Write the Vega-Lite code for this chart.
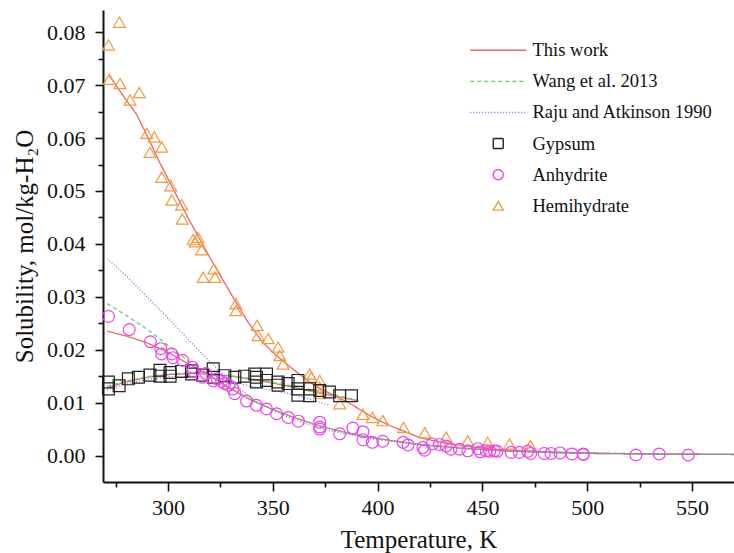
{
  "$schema": "https://vega.github.io/schema/vega-lite/v6.json",
  "autosize": {"type": "none"},
  "width": 631,
  "height": 472,
  "padding": {"left": 103, "top": 10, "right": 0, "bottom": 71},
  "background": "white",
  "config": {
    "view": {"stroke": null},
    "font": "Liberation Serif",
    "axis": {
      "grid": false,
      "domainColor": "#111",
      "domainWidth": 2,
      "tickColor": "#111",
      "tickWidth": 1.6,
      "labelFont": "Liberation Serif",
      "labelFontSize": 22,
      "labelColor": "#111",
      "titleFont": "Liberation Serif",
      "titleFontSize": 25,
      "titleFontWeight": "normal",
      "titleColor": "#111"
    },
    "legend": {
      "orient": "none",
      "legendX": 386,
      "legendY": 31,
      "title": null,
      "labelFont": "Liberation Serif",
      "labelFontSize": 18.5,
      "labelColor": "#111",
      "labelOffset": 25,
      "labelLimit": 0,
      "symbolSize": 100,
      "symbolStrokeWidth": 1.4,
      "rowPadding": 12.1,
      "symbolFillColor": "transparent"
    }
  },
  "datasets": {
    "pts": [
      {"series": "Hemihydrate", "T": 276.8, "S": 0.0819},
      {"series": "Hemihydrate", "T": 271.6, "S": 0.0776},
      {"series": "Hemihydrate", "T": 272.0, "S": 0.0711},
      {"series": "Hemihydrate", "T": 277.1, "S": 0.0703},
      {"series": "Hemihydrate", "T": 281.9, "S": 0.0672},
      {"series": "Hemihydrate", "T": 286.3, "S": 0.0686},
      {"series": "Hemihydrate", "T": 289.9, "S": 0.0609},
      {"series": "Hemihydrate", "T": 293.5, "S": 0.0602},
      {"series": "Hemihydrate", "T": 297.0, "S": 0.0583},
      {"series": "Hemihydrate", "T": 291.4, "S": 0.0573},
      {"series": "Hemihydrate", "T": 297.0, "S": 0.0526},
      {"series": "Hemihydrate", "T": 301.3, "S": 0.0510},
      {"series": "Hemihydrate", "T": 301.8, "S": 0.0483},
      {"series": "Hemihydrate", "T": 306.5, "S": 0.0474},
      {"series": "Hemihydrate", "T": 306.8, "S": 0.0447},
      {"series": "Hemihydrate", "T": 312.0, "S": 0.0408},
      {"series": "Hemihydrate", "T": 314.4, "S": 0.0412},
      {"series": "Hemihydrate", "T": 313.0, "S": 0.0404},
      {"series": "Hemihydrate", "T": 316.0, "S": 0.0389},
      {"series": "Hemihydrate", "T": 316.8, "S": 0.0337},
      {"series": "Hemihydrate", "T": 321.9, "S": 0.0353},
      {"series": "Hemihydrate", "T": 322.4, "S": 0.0337},
      {"series": "Hemihydrate", "T": 332.4, "S": 0.0287},
      {"series": "Hemihydrate", "T": 332.4, "S": 0.0274},
      {"series": "Hemihydrate", "T": 342.5, "S": 0.0246},
      {"series": "Hemihydrate", "T": 343.0, "S": 0.0227},
      {"series": "Hemihydrate", "T": 347.8, "S": 0.0221},
      {"series": "Hemihydrate", "T": 352.5, "S": 0.0205},
      {"series": "Hemihydrate", "T": 353.3, "S": 0.0189},
      {"series": "Hemihydrate", "T": 354.9, "S": 0.0173},
      {"series": "Hemihydrate", "T": 367.6, "S": 0.0154},
      {"series": "Hemihydrate", "T": 368.4, "S": 0.0148},
      {"series": "Hemihydrate", "T": 372.4, "S": 0.0142},
      {"series": "Hemihydrate", "T": 372.4, "S": 0.0129},
      {"series": "Hemihydrate", "T": 372.4, "S": 0.0117},
      {"series": "Hemihydrate", "T": 381.9, "S": 0.0098},
      {"series": "Hemihydrate", "T": 393.0, "S": 0.0078},
      {"series": "Hemihydrate", "T": 397.5, "S": 0.0072},
      {"series": "Hemihydrate", "T": 402.5, "S": 0.0066},
      {"series": "Hemihydrate", "T": 412.4, "S": 0.0053},
      {"series": "Hemihydrate", "T": 422.5, "S": 0.0043},
      {"series": "Hemihydrate", "T": 432.7, "S": 0.0035},
      {"series": "Hemihydrate", "T": 443.0, "S": 0.0028},
      {"series": "Hemihydrate", "T": 452.5, "S": 0.0025},
      {"series": "Hemihydrate", "T": 462.9, "S": 0.0022},
      {"series": "Hemihydrate", "T": 472.9, "S": 0.0019},
      {"series": "Gypsum", "T": 271.6, "S": 0.0139},
      {"series": "Gypsum", "T": 271.6, "S": 0.0126},
      {"series": "Gypsum", "T": 276.7, "S": 0.0132},
      {"series": "Gypsum", "T": 281.1, "S": 0.0145},
      {"series": "Gypsum", "T": 285.9, "S": 0.0148},
      {"series": "Gypsum", "T": 291.4, "S": 0.0152},
      {"series": "Gypsum", "T": 296.2, "S": 0.0161},
      {"series": "Gypsum", "T": 296.2, "S": 0.0150},
      {"series": "Gypsum", "T": 301.0, "S": 0.0157},
      {"series": "Gypsum", "T": 301.0, "S": 0.0150},
      {"series": "Gypsum", "T": 306.5, "S": 0.0159},
      {"series": "Gypsum", "T": 311.3, "S": 0.0154},
      {"series": "Gypsum", "T": 311.3, "S": 0.0160},
      {"series": "Gypsum", "T": 316.5, "S": 0.0152},
      {"series": "Gypsum", "T": 321.6, "S": 0.0164},
      {"series": "Gypsum", "T": 321.6, "S": 0.0148},
      {"series": "Gypsum", "T": 327.1, "S": 0.0151},
      {"series": "Gypsum", "T": 331.9, "S": 0.0148},
      {"series": "Gypsum", "T": 336.5, "S": 0.0150},
      {"series": "Gypsum", "T": 341.4, "S": 0.0154},
      {"series": "Gypsum", "T": 342.2, "S": 0.0139},
      {"series": "Gypsum", "T": 342.2, "S": 0.0148},
      {"series": "Gypsum", "T": 347.0, "S": 0.0154},
      {"series": "Gypsum", "T": 347.0, "S": 0.0142},
      {"series": "Gypsum", "T": 352.5, "S": 0.0139},
      {"series": "Gypsum", "T": 352.5, "S": 0.0133},
      {"series": "Gypsum", "T": 357.3, "S": 0.0136},
      {"series": "Gypsum", "T": 362.0, "S": 0.0142},
      {"series": "Gypsum", "T": 362.0, "S": 0.0126},
      {"series": "Gypsum", "T": 362.0, "S": 0.0114},
      {"series": "Gypsum", "T": 367.6, "S": 0.0126},
      {"series": "Gypsum", "T": 367.6, "S": 0.0113},
      {"series": "Gypsum", "T": 372.4, "S": 0.0123},
      {"series": "Gypsum", "T": 377.0, "S": 0.0120},
      {"series": "Gypsum", "T": 381.9, "S": 0.0113},
      {"series": "Gypsum", "T": 387.5, "S": 0.0113},
      {"series": "Anhydrite", "T": 271.6, "S": 0.0263},
      {"series": "Anhydrite", "T": 281.5, "S": 0.0238},
      {"series": "Anhydrite", "T": 291.6, "S": 0.0215},
      {"series": "Anhydrite", "T": 296.6, "S": 0.0202},
      {"series": "Anhydrite", "T": 297.0, "S": 0.0192},
      {"series": "Anhydrite", "T": 301.8, "S": 0.0192},
      {"series": "Anhydrite", "T": 302.5, "S": 0.0185},
      {"series": "Anhydrite", "T": 307.0, "S": 0.0180},
      {"series": "Anhydrite", "T": 311.6, "S": 0.0167},
      {"series": "Anhydrite", "T": 312.0, "S": 0.0160},
      {"series": "Anhydrite", "T": 316.4, "S": 0.0148},
      {"series": "Anhydrite", "T": 318.0, "S": 0.0155},
      {"series": "Anhydrite", "T": 321.6, "S": 0.0141},
      {"series": "Anhydrite", "T": 323.5, "S": 0.0145},
      {"series": "Anhydrite", "T": 325.5, "S": 0.0140},
      {"series": "Anhydrite", "T": 327.1, "S": 0.0136},
      {"series": "Anhydrite", "T": 329.0, "S": 0.0133},
      {"series": "Anhydrite", "T": 331.0, "S": 0.0126},
      {"series": "Anhydrite", "T": 331.9, "S": 0.0117},
      {"series": "Anhydrite", "T": 337.5, "S": 0.0103},
      {"series": "Anhydrite", "T": 342.2, "S": 0.0095},
      {"series": "Anhydrite", "T": 347.0, "S": 0.0088},
      {"series": "Anhydrite", "T": 351.8, "S": 0.0079},
      {"series": "Anhydrite", "T": 357.3, "S": 0.0072},
      {"series": "Anhydrite", "T": 362.2, "S": 0.0065},
      {"series": "Anhydrite", "T": 372.4, "S": 0.0063},
      {"series": "Anhydrite", "T": 372.4, "S": 0.0054},
      {"series": "Anhydrite", "T": 372.4, "S": 0.0050},
      {"series": "Anhydrite", "T": 381.9, "S": 0.0041},
      {"series": "Anhydrite", "T": 388.2, "S": 0.0052},
      {"series": "Anhydrite", "T": 393.0, "S": 0.0045},
      {"series": "Anhydrite", "T": 393.0, "S": 0.0030},
      {"series": "Anhydrite", "T": 397.5, "S": 0.0025},
      {"series": "Anhydrite", "T": 402.5, "S": 0.0027},
      {"series": "Anhydrite", "T": 412.2, "S": 0.0025},
      {"series": "Anhydrite", "T": 414.5, "S": 0.0020},
      {"series": "Anhydrite", "T": 421.6, "S": 0.0015},
      {"series": "Anhydrite", "T": 422.4, "S": 0.0010},
      {"series": "Anhydrite", "T": 426.0, "S": 0.0022},
      {"series": "Anhydrite", "T": 429.5, "S": 0.0021},
      {"series": "Anhydrite", "T": 432.7, "S": 0.0018},
      {"series": "Anhydrite", "T": 435.0, "S": 0.0012},
      {"series": "Anhydrite", "T": 439.0, "S": 0.0012},
      {"series": "Anhydrite", "T": 443.0, "S": 0.0009},
      {"series": "Anhydrite", "T": 447.8, "S": 0.0013},
      {"series": "Anhydrite", "T": 449.0, "S": 0.0007},
      {"series": "Anhydrite", "T": 451.8, "S": 0.0009},
      {"series": "Anhydrite", "T": 453.5, "S": 0.0008},
      {"series": "Anhydrite", "T": 455.7, "S": 0.0009},
      {"series": "Anhydrite", "T": 457.0, "S": 0.0008},
      {"series": "Anhydrite", "T": 463.7, "S": 0.0006},
      {"series": "Anhydrite", "T": 467.6, "S": 0.0006},
      {"series": "Anhydrite", "T": 471.6, "S": 0.0008},
      {"series": "Anhydrite", "T": 473.0, "S": 0.0004},
      {"series": "Anhydrite", "T": 479.5, "S": 0.0004},
      {"series": "Anhydrite", "T": 482.7, "S": 0.0004},
      {"series": "Anhydrite", "T": 487.0, "S": 0.0005},
      {"series": "Anhydrite", "T": 492.7, "S": 0.0003},
      {"series": "Anhydrite", "T": 498.1, "S": 0.0003},
      {"series": "Anhydrite", "T": 498.1, "S": 0.0002},
      {"series": "Anhydrite", "T": 523.2, "S": 0.0001},
      {"series": "Anhydrite", "T": 534.3, "S": 0.0003},
      {"series": "Anhydrite", "T": 548.2, "S": 0.0001}
    ],
    "lines": [
      {"series": "This work", "mineral": "H", "T": 272, "S": 0.0718},
      {"series": "This work", "mineral": "H", "T": 280, "S": 0.0672},
      {"series": "This work", "mineral": "H", "T": 285, "S": 0.0645},
      {"series": "This work", "mineral": "H", "T": 290, "S": 0.0605},
      {"series": "This work", "mineral": "H", "T": 296, "S": 0.0554},
      {"series": "This work", "mineral": "H", "T": 300, "S": 0.0523},
      {"series": "This work", "mineral": "H", "T": 310, "S": 0.0446},
      {"series": "This work", "mineral": "H", "T": 320, "S": 0.0374},
      {"series": "This work", "mineral": "H", "T": 330, "S": 0.0306},
      {"series": "This work", "mineral": "H", "T": 338, "S": 0.0253},
      {"series": "This work", "mineral": "H", "T": 345, "S": 0.0215},
      {"series": "This work", "mineral": "H", "T": 350, "S": 0.0195},
      {"series": "This work", "mineral": "H", "T": 355, "S": 0.0178},
      {"series": "This work", "mineral": "H", "T": 360, "S": 0.0162},
      {"series": "This work", "mineral": "H", "T": 370, "S": 0.0132},
      {"series": "This work", "mineral": "H", "T": 380, "S": 0.0112},
      {"series": "This work", "mineral": "H", "T": 387, "S": 0.0098},
      {"series": "This work", "mineral": "H", "T": 396, "S": 0.0076},
      {"series": "This work", "mineral": "H", "T": 405, "S": 0.0058},
      {"series": "This work", "mineral": "H", "T": 420, "S": 0.0034},
      {"series": "This work", "mineral": "H", "T": 430, "S": 0.0025},
      {"series": "This work", "mineral": "H", "T": 445, "S": 0.0016},
      {"series": "This work", "mineral": "H", "T": 460, "S": 0.0011},
      {"series": "This work", "mineral": "H", "T": 480, "S": 0.0007},
      {"series": "This work", "mineral": "H", "T": 500, "S": 0.0005},
      {"series": "This work", "mineral": "H", "T": 530, "S": 0.0003},
      {"series": "This work", "mineral": "H", "T": 570, "S": 0.0002},
      {"series": "This work", "mineral": "G", "T": 271, "S": 0.0128},
      {"series": "This work", "mineral": "G", "T": 280, "S": 0.0139},
      {"series": "This work", "mineral": "G", "T": 290, "S": 0.0148},
      {"series": "This work", "mineral": "G", "T": 300, "S": 0.0153},
      {"series": "This work", "mineral": "G", "T": 310, "S": 0.0155},
      {"series": "This work", "mineral": "G", "T": 320, "S": 0.0154},
      {"series": "This work", "mineral": "G", "T": 330, "S": 0.0150},
      {"series": "This work", "mineral": "G", "T": 340, "S": 0.0144},
      {"series": "This work", "mineral": "G", "T": 350, "S": 0.0137},
      {"series": "This work", "mineral": "G", "T": 360, "S": 0.0129},
      {"series": "This work", "mineral": "G", "T": 370, "S": 0.0120},
      {"series": "This work", "mineral": "G", "T": 380, "S": 0.0112},
      {"series": "This work", "mineral": "G", "T": 390, "S": 0.0104},
      {"series": "This work", "mineral": "A", "T": 271, "S": 0.0235},
      {"series": "This work", "mineral": "A", "T": 280, "S": 0.0226},
      {"series": "This work", "mineral": "A", "T": 290, "S": 0.0213},
      {"series": "This work", "mineral": "A", "T": 300, "S": 0.0195},
      {"series": "This work", "mineral": "A", "T": 310, "S": 0.0173},
      {"series": "This work", "mineral": "A", "T": 320, "S": 0.0150},
      {"series": "This work", "mineral": "A", "T": 330, "S": 0.0126},
      {"series": "This work", "mineral": "A", "T": 340, "S": 0.0104},
      {"series": "This work", "mineral": "A", "T": 350, "S": 0.0087},
      {"series": "This work", "mineral": "A", "T": 360, "S": 0.0072},
      {"series": "This work", "mineral": "A", "T": 370, "S": 0.0059},
      {"series": "This work", "mineral": "A", "T": 380, "S": 0.0048},
      {"series": "This work", "mineral": "A", "T": 390, "S": 0.0039},
      {"series": "This work", "mineral": "A", "T": 400, "S": 0.0032},
      {"series": "This work", "mineral": "A", "T": 420, "S": 0.0021},
      {"series": "This work", "mineral": "A", "T": 440, "S": 0.0014},
      {"series": "This work", "mineral": "A", "T": 460, "S": 0.0009},
      {"series": "This work", "mineral": "A", "T": 480, "S": 0.0006},
      {"series": "This work", "mineral": "A", "T": 500, "S": 0.0004},
      {"series": "This work", "mineral": "A", "T": 530, "S": 0.0003},
      {"series": "This work", "mineral": "A", "T": 570, "S": 0.0002},
      {"series": "Wang et al. 2013", "mineral": "G", "T": 271, "S": 0.0131},
      {"series": "Wang et al. 2013", "mineral": "G", "T": 280, "S": 0.0141},
      {"series": "Wang et al. 2013", "mineral": "G", "T": 290, "S": 0.0149},
      {"series": "Wang et al. 2013", "mineral": "G", "T": 300, "S": 0.0154},
      {"series": "Wang et al. 2013", "mineral": "G", "T": 310, "S": 0.0156},
      {"series": "Wang et al. 2013", "mineral": "G", "T": 320, "S": 0.0155},
      {"series": "Wang et al. 2013", "mineral": "G", "T": 330, "S": 0.0151},
      {"series": "Wang et al. 2013", "mineral": "G", "T": 340, "S": 0.0145},
      {"series": "Wang et al. 2013", "mineral": "G", "T": 350, "S": 0.0138},
      {"series": "Wang et al. 2013", "mineral": "G", "T": 360, "S": 0.0131},
      {"series": "Wang et al. 2013", "mineral": "G", "T": 370, "S": 0.0123},
      {"series": "Wang et al. 2013", "mineral": "G", "T": 380, "S": 0.0114},
      {"series": "Wang et al. 2013", "mineral": "G", "T": 391, "S": 0.0104},
      {"series": "Wang et al. 2013", "mineral": "A", "T": 271, "S": 0.0287},
      {"series": "Wang et al. 2013", "mineral": "A", "T": 280, "S": 0.0265},
      {"series": "Wang et al. 2013", "mineral": "A", "T": 291, "S": 0.0236},
      {"series": "Wang et al. 2013", "mineral": "A", "T": 300, "S": 0.0208},
      {"series": "Wang et al. 2013", "mineral": "A", "T": 310, "S": 0.0178},
      {"series": "Wang et al. 2013", "mineral": "A", "T": 320, "S": 0.0151},
      {"series": "Wang et al. 2013", "mineral": "A", "T": 330, "S": 0.0127},
      {"series": "Wang et al. 2013", "mineral": "A", "T": 340, "S": 0.0105},
      {"series": "Wang et al. 2013", "mineral": "A", "T": 350, "S": 0.0087},
      {"series": "Wang et al. 2013", "mineral": "A", "T": 360, "S": 0.0072},
      {"series": "Wang et al. 2013", "mineral": "A", "T": 370, "S": 0.0059},
      {"series": "Wang et al. 2013", "mineral": "A", "T": 380, "S": 0.0048},
      {"series": "Wang et al. 2013", "mineral": "A", "T": 390, "S": 0.0039},
      {"series": "Wang et al. 2013", "mineral": "A", "T": 400, "S": 0.0032},
      {"series": "Wang et al. 2013", "mineral": "A", "T": 420, "S": 0.0021},
      {"series": "Wang et al. 2013", "mineral": "A", "T": 440, "S": 0.0014},
      {"series": "Wang et al. 2013", "mineral": "A", "T": 460, "S": 0.0009},
      {"series": "Wang et al. 2013", "mineral": "A", "T": 480, "S": 0.0006},
      {"series": "Wang et al. 2013", "mineral": "A", "T": 500, "S": 0.0004},
      {"series": "Wang et al. 2013", "mineral": "A", "T": 530, "S": 0.0003},
      {"series": "Wang et al. 2013", "mineral": "A", "T": 570, "S": 0.0002},
      {"series": "Raju and Atkinson 1990", "mineral": "G", "T": 271, "S": 0.0124},
      {"series": "Raju and Atkinson 1990", "mineral": "G", "T": 280, "S": 0.0135},
      {"series": "Raju and Atkinson 1990", "mineral": "G", "T": 290, "S": 0.0144},
      {"series": "Raju and Atkinson 1990", "mineral": "G", "T": 300, "S": 0.0149},
      {"series": "Raju and Atkinson 1990", "mineral": "G", "T": 310, "S": 0.0150},
      {"series": "Raju and Atkinson 1990", "mineral": "G", "T": 320, "S": 0.0147},
      {"series": "Raju and Atkinson 1990", "mineral": "G", "T": 330, "S": 0.0141},
      {"series": "Raju and Atkinson 1990", "mineral": "G", "T": 340, "S": 0.0130},
      {"series": "Raju and Atkinson 1990", "mineral": "G", "T": 350, "S": 0.0123},
      {"series": "Raju and Atkinson 1990", "mineral": "G", "T": 360, "S": 0.0115},
      {"series": "Raju and Atkinson 1990", "mineral": "G", "T": 370, "S": 0.0104},
      {"series": "Raju and Atkinson 1990", "mineral": "G", "T": 377, "S": 0.0095},
      {"series": "Raju and Atkinson 1990", "mineral": "A", "T": 271, "S": 0.0372},
      {"series": "Raju and Atkinson 1990", "mineral": "A", "T": 280, "S": 0.0340},
      {"series": "Raju and Atkinson 1990", "mineral": "A", "T": 290, "S": 0.0300},
      {"series": "Raju and Atkinson 1990", "mineral": "A", "T": 300, "S": 0.0260},
      {"series": "Raju and Atkinson 1990", "mineral": "A", "T": 310, "S": 0.0218},
      {"series": "Raju and Atkinson 1990", "mineral": "A", "T": 320, "S": 0.0177},
      {"series": "Raju and Atkinson 1990", "mineral": "A", "T": 330, "S": 0.0140},
      {"series": "Raju and Atkinson 1990", "mineral": "A", "T": 340, "S": 0.0108},
      {"series": "Raju and Atkinson 1990", "mineral": "A", "T": 350, "S": 0.0085},
      {"series": "Raju and Atkinson 1990", "mineral": "A", "T": 360, "S": 0.0068},
      {"series": "Raju and Atkinson 1990", "mineral": "A", "T": 370, "S": 0.0055},
      {"series": "Raju and Atkinson 1990", "mineral": "A", "T": 380, "S": 0.0045},
      {"series": "Raju and Atkinson 1990", "mineral": "A", "T": 390, "S": 0.0037},
      {"series": "Raju and Atkinson 1990", "mineral": "A", "T": 400, "S": 0.0030},
      {"series": "Raju and Atkinson 1990", "mineral": "A", "T": 420, "S": 0.0020},
      {"series": "Raju and Atkinson 1990", "mineral": "A", "T": 440, "S": 0.0013},
      {"series": "Raju and Atkinson 1990", "mineral": "A", "T": 460, "S": 0.0009},
      {"series": "Raju and Atkinson 1990", "mineral": "A", "T": 480, "S": 0.0006},
      {"series": "Raju and Atkinson 1990", "mineral": "A", "T": 500, "S": 0.0004},
      {"series": "Raju and Atkinson 1990", "mineral": "A", "T": 530, "S": 0.0003},
      {"series": "Raju and Atkinson 1990", "mineral": "A", "T": 570, "S": 0.0002}
    ]
  },
  "encoding": {
    "x": {
      "field": "T", "type": "quantitative",
      "scale": {"domain": [269, 570], "nice": false, "zero": false},
      "axis": {
        "title": "Temperature, K",
        "values": [275, 300, 325, 350, 375, 400, 425, 450, 475, 500, 525, 550],
        "labelExpr": "datum.value % 50 === 0 ? datum.label : ''",
        "tickSize": {"condition": {"test": "datum.value % 50 === 0", "value": 9}, "value": 5},
        "labelPadding": 6,
        "titlePadding": 9,
        "format": "d"
      }
    },
    "y": {
      "field": "S", "type": "quantitative",
      "scale": {"domain": [-0.005, 0.0842], "nice": false, "zero": false},
      "axis": {
        "title": "Solubility, mol/kg-H₂O",
        "values": [0, 0.005, 0.01, 0.015, 0.02, 0.025, 0.03, 0.035, 0.04, 0.045, 0.05, 0.055, 0.06, 0.065, 0.07, 0.075, 0.08],
        "format": ".2f",
        "labelExpr": "round(datum.value * 1000) % 10 === 0 ? datum.label : ''",
        "tickSize": {"condition": {"test": "round(datum.value * 1000) % 10 === 0", "value": 8}, "value": 5},
        "labelPadding": 10,
        "titlePadding": 9
      }
    }
  },
  "layer": [
    {
      "data": {"name": "lines"},
      "mark": {"type": "line", "strokeWidth": 1.3, "clip": true},
      "encoding": {
        "detail": {"field": "mineral"},
        "order": {"field": "T", "type": "quantitative"},
        "color": {
          "field": "series", "type": "nominal",
          "scale": {
            "domain": ["This work", "Wang et al. 2013", "Raju and Atkinson 1990", "Gypsum", "Anhydrite", "Hemihydrate"],
            "range": ["#f26464", "#5ed65e", "#7474ee", "#222222", "#ee44ee", "#f59a3c"]
          },
          "legend": {"title": null}
        },
        "strokeDash": {
          "field": "series", "type": "nominal",
          "scale": {
            "domain": ["This work", "Wang et al. 2013", "Raju and Atkinson 1990", "Gypsum", "Anhydrite", "Hemihydrate"],
            "range": [[1, 0], [4, 3], [1, 2], [1, 0], [1, 0], [1, 0]]
          },
          "legend": {"title": null}
        }
      }
    },
    {
      "data": {"name": "pts"},
      "mark": {"type": "point", "filled": false, "size": 140, "strokeWidth": 1.2, "opacity": 1},
      "encoding": {
        "color": {
          "field": "series", "type": "nominal",
          "scale": {
            "domain": ["This work", "Wang et al. 2013", "Raju and Atkinson 1990", "Gypsum", "Anhydrite", "Hemihydrate"],
            "range": ["#f26464", "#5ed65e", "#7474ee", "#222222", "#ee44ee", "#f59a3c"]
          },
          "legend": {"title": null}
        },
        "shape": {
          "field": "series", "type": "nominal",
          "scale": {
            "domain": ["This work", "Wang et al. 2013", "Raju and Atkinson 1990", "Gypsum", "Anhydrite", "Hemihydrate"],
            "range": ["M-5.6,0H5.6", "M-5.6,0H5.6", "M-5.6,0H5.6", "square", "circle", "triangle-up"]
          },
          "legend": {"title": null}
        }
      }
    }
  ]
}
